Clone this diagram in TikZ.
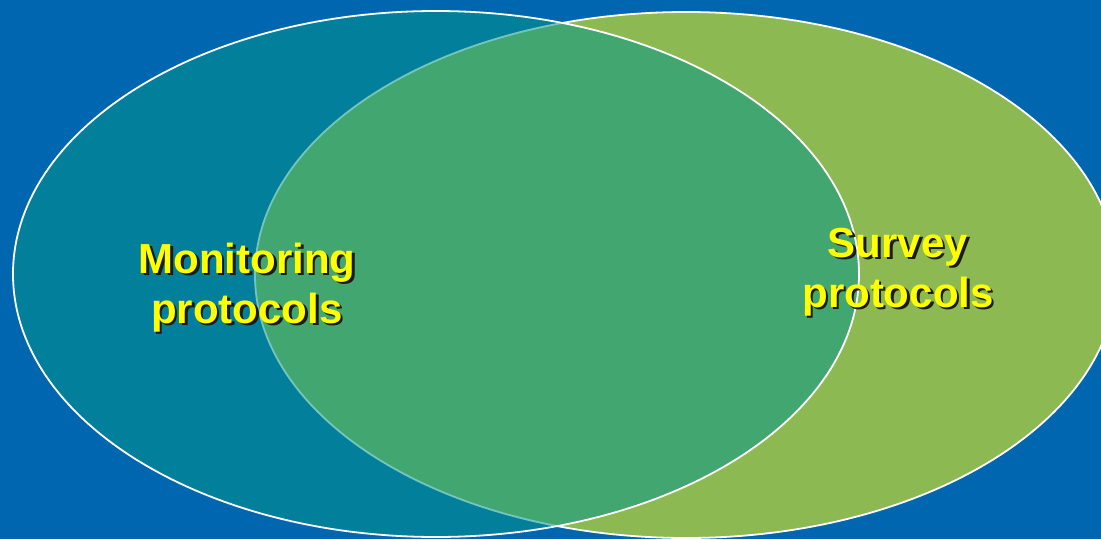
\documentclass[tikz,border=0pt]{standalone}
\usepackage{fontspec}
\setmainfont{Liberation Sans}
\usetikzlibrary{shapes.geometric}
\definecolor{slideBlue}{HTML}{0066B0}
\definecolor{surveyGreen}{HTML}{8CB952}
\definecolor{monitorTeal}{HTML}{05978A}
\definecolor{labelYellow}{HTML}{FFFF00}
\begin{document}
\begin{tikzpicture}
[x=1pt,y=-1pt,%
  setDecorate/.style={shape=ellipse,inner sep=0pt,draw=white,line width=1.8pt,
    minimum width=#1},%
  labelDecorate/.style={align=center,anchor=base,inner sep=0pt,
    font=\fontsize{42}{50}\selectfont\bfseries},%
  labelShadow/.style={labelDecorate,text=black!90},%
  labelText/.style={labelDecorate,text=labelYellow}]
%% background
\fill[slideBlue] (0,0) rectangle (1101,539);
\useasboundingbox (0,0) rectangle (1101,539);
%% the two sets
\node (survey) at (686,275) [setDecorate=862pt,minimum height=526pt,
  fill=surveyGreen] {};
\node (monitor) at (436,274) [setDecorate=846pt,minimum height=526pt,
  fill=monitorTeal,fill opacity=0.55,draw opacity=1] {};
%% labels with drop shadow (base = last line)
\foreach \name/\x/\y/\txt in {
  mon/247/323/{Monitoring\\protocols}, sur/898/307/{Survey\\protocols}}
{
  \node (\name-shadow) at (\x+2.5,\y+2.5) [labelShadow] {\txt};
  \node (\name) at (\x,\y) [labelText] {\txt};
}
\end{tikzpicture}
\end{document}
